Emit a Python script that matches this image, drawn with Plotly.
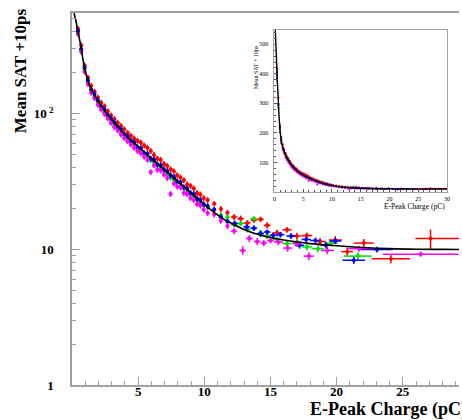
import plotly.graph_objects as go

# Fit curve: mean SAT (+10 ps) versus E-peak charge
fit_q = [0.15, 0.3, 0.45, 0.6, 0.8, 1.0, 1.25, 1.5, 2.0, 2.5, 3.0, 3.5, 4.0, 4.5, 5.0,
         5.5, 6.0, 6.5, 7.0, 7.5, 8.0, 8.5, 9.0, 9.5, 10.0, 10.5, 11.0, 11.5, 12.0,
         13.0, 14.0, 15.0, 16.0, 17.0, 18.0, 19.0, 20.0, 22.0, 24.0, 26.0, 28.0, 30.0]
fit_sat = [550, 480, 400, 340, 260, 205, 168, 148, 122, 104, 90, 79, 70, 63, 57,
           51.7, 46.8, 42.4, 38.5, 35, 31.6, 28.7, 26, 23.6, 21.4, 19.5, 17.9, 16.6, 15.6,
           14.0, 12.9, 12.2, 11.7, 11.3, 11.0, 10.8, 10.6, 10.3, 10.1, 10.0, 9.97, 9.95]

# Common fine charge bins (pC)
q_lo = [0.45, 0.70, 0.95, 1.20, 1.45, 1.70, 1.95, 2.20, 2.45, 2.70, 2.95, 3.20, 3.45,
        3.70, 3.95, 4.20, 4.45, 4.70, 4.95, 5.20, 5.45, 5.70, 5.95, 6.20, 6.45, 6.70,
        6.95, 7.20, 7.45, 7.70, 7.95, 8.20, 8.45, 8.70, 8.95, 9.20, 9.45, 9.70, 9.95]

red_lo = [420, 318, 226, 184, 160, 145, 131, 120, 113, 104, 97, 91, 85.5, 81, 76.5,
          72, 68.5, 65.5, 63, 61, 58, 56, 53, 49.5, 46.5, 45.5, 42.5, 41, 38.8,
          37.5, 35, 33.8, 32.2, 30, 29.3, 28, 26, 25.3, 23.8]
green_lo = [395, 292, 212, 170, 148, 133, 121, 111, 102, 95, 89, 82, 78, 72, 69,
            64.5, 61, 58.5, 55, 53, 50.5, 47.5, 45.5, 43.8, 41, 39.5, 37.5, 36, 33.8,
            32.5, 31, 29.2, 28.2, 26.5, 25.4, 24.5, 23, 22.2, 21]
blue_lo = [405, 298, 218, 176, 150, 139, 125, 113, 107, 97, 92, 86, 79, 76.5, 70,
           68, 62.5, 61.5, 56.5, 55.5, 51, 50.5, 46.5, 45.5, 42, 41.5, 38.5, 37.5, 35,
           34, 31.5, 31, 28.5, 28, 26, 25.5, 23.5, 23, 21.4]
magenta_lo = [385, 285, 203, 165, 142, 130, 116, 107, 99, 92, 85, 79, 75, 70, 66,
              62.5, 59, 56, 53, 51, 48, 45.5, 37, 41.5, 38.5, 38, 35.5, 33.5, 25.5,
              30.5, 29, 28.5, 26, 25.5, 23.8, 23, 21.5, 21, 19.6]

# Coarser high-charge bins, per channel
red_hi_q = [10.25, 10.75, 11.25, 11.75, 12.25, 12.75, 13.25, 13.75, 14.25, 14.75, 15.5,
            16.25, 17.0, 17.75, 18.75, 19.9, 20.8, 22.05, 24.1, 27.1]
red_hi_dq = [0.14, 0.14, 0.14, 0.14, 0.25, 0.25, 0.25, 0.25, 0.25, 0.25, 0.35,
             0.35, 0.35, 0.4, 0.45, 0.5, 0.45, 0.75, 1.45, 2.9]
red_hi_dq_lo = [0.14, 0.14, 0.14, 0.14, 0.25, 0.25, 0.25, 0.25, 0.25, 0.25, 0.35,
                0.35, 0.35, 0.4, 0.45, 0.5, 0.45, 0.75, 1.45, 1.15]
red_hi = [23.0, 21.6, 19.8, 18.6, 17.3, 16.8, 15.6, 16.4, 16.6, 15.0, 13.2,
          13.9, 12.5, 12.6, 11.4, 11.7, 9.6, 11.1, 8.5, 12.0]
red_hi_err = [1.1, 1.0, 1.0, 0.9, 0.9, 0.9, 0.8, 0.8, 0.8, 0.8, 0.7,
              0.7, 0.7, 0.7, 0.7, 0.8, 0.7, 0.8, 0.6, 2.0]

green_hi_q = [10.25, 10.75, 11.25, 11.75, 12.25, 12.75, 13.25, 13.75, 14.25, 14.75, 15.5,
              16.25, 17.0, 17.75, 18.6, 19.6, 21.6]
green_hi_dq = [0.14, 0.14, 0.14, 0.14, 0.25, 0.25, 0.25, 0.25, 0.25, 0.25, 0.35,
               0.35, 0.35, 0.4, 0.45, 0.5, 1.05]
green_hi = [20.5, 19.5, 17.8, 17.2, 15.2, 15.5, 14.0, 16.8, 13.2, 12.5, 11.8,
            11.0, 11.3, 10.4, 10.1, 11.1, 8.9]
green_hi_err = [1.0, 0.9, 0.9, 0.8, 0.8, 0.7, 0.7, 0.7, 0.7, 0.6, 0.6,
                0.6, 0.6, 0.6, 0.6, 0.6, 0.6]

blue_hi_q = [10.25, 10.75, 11.25, 11.75, 12.3, 13.2, 13.75, 14.25, 14.75, 15.2, 15.75,
             16.55, 17.2, 17.7, 18.4, 19.2, 19.9, 21.3, 23.05]
blue_hi_dq = [0.14, 0.14, 0.14, 0.14, 0.25, 0.25, 0.25, 0.25, 0.25, 0.25, 0.3,
              0.35, 0.35, 0.35, 0.4, 0.4, 0.45, 0.85, 1.2]
blue_hi = [20.8, 19.6, 17.2, 16.0, 15.5, 14.6, 14.3, 13.0, 13.4, 12.65, 12.8,
           12.5, 10.7, 11.8, 11.6, 10.7, 11.5, 8.3, 9.95]
blue_hi_err = [1.0, 0.9, 0.9, 0.8, 0.8, 0.7, 0.7, 0.7, 0.6, 0.6, 0.6,
               0.6, 0.6, 0.6, 0.6, 0.6, 0.6, 0.5, 0.5]

magenta_hi_q = [10.25, 10.75, 11.25, 11.75, 12.25, 12.9, 13.4, 14.0, 14.5, 15.0, 15.6,
                16.3, 17.0, 17.9, 19.3, 21.7, 26.35]
magenta_hi_dq = [0.14, 0.14, 0.14, 0.14, 0.25, 0.25, 0.25, 0.25, 0.25, 0.25, 0.35,
                 0.35, 0.35, 0.4, 0.5, 0.9, 2.85]
magenta_hi = [18.5, 18.0, 16.2, 14.8, 13.6, 9.8, 12.0, 11.4, 11.1, 11.6, 11.3,
              10.2, 11.0, 8.9, 9.8, 10.1, 9.2]
magenta_hi_err = [1.0, 0.9, 0.8, 0.8, 0.7, 0.7, 0.7, 0.7, 0.6, 0.6, 0.6,
                  0.6, 0.6, 0.6, 0.6, 0.5, 0.4]

channels = [
    ("#ff0000", red_lo, red_hi_q, red_hi_dq, red_hi_dq_lo, red_hi, red_hi_err),
    ("#00e000", green_lo, green_hi_q, green_hi_dq, green_hi_dq, green_hi, green_hi_err),
    ("#0000ff", blue_lo, blue_hi_q, blue_hi_dq, blue_hi_dq, blue_hi, blue_hi_err),
    ("#ff00ff", magenta_lo, magenta_hi_q, magenta_hi_dq, magenta_hi_dq, magenta_hi, magenta_hi_err),
]

# Log-axis minor tick positions (2..9 in each decade)
log_minor = [2, 3, 4, 5, 6, 7, 8, 9, 20, 30, 40, 50, 60, 70, 80, 90, 200, 300, 400, 500]

FRAME = "#a0a0a0"
SERIF = "Liberation Serif"

fig = go.Figure()

for xa, ya, msize, lw, pct, dq in (("x", "y", 4, 1.5, 5, 0.14), ("x2", "y2", 2.2, 0.8, 3, 0.12)):
    for color, lo, hq, hdq, hdq_lo, hy, hyerr in channels:
        fig.add_trace(go.Scatter(
            x=q_lo, y=lo, mode="markers", xaxis=xa, yaxis=ya,
            marker=dict(color=color, size=msize, line=dict(width=0)),
            error_x=dict(type="constant", value=dq, color=color, thickness=lw, width=0),
            error_y=dict(type="percent", value=pct, color=color, thickness=lw, width=0),
            showlegend=False, cliponaxis=True))
        fig.add_trace(go.Scatter(
            x=hq, y=hy, mode="markers", xaxis=xa, yaxis=ya,
            marker=dict(color=color, size=msize, line=dict(width=0)),
            error_x=dict(type="data", array=hdq, arrayminus=hdq_lo, symmetric=False,
                         color=color, thickness=lw, width=0),
            error_y=dict(type="data", array=hyerr, color=color, thickness=lw, width=0),
            showlegend=False, cliponaxis=True))
    fig.add_trace(go.Scatter(
        x=fit_q, y=fit_sat, mode="lines", xaxis=xa, yaxis=ya,
        line=dict(color="black", width=1.6 if xa == "x" else 1.4, shape="spline"),
        showlegend=False))

tickfont = dict(family=SERIF, size=13, color="black", weight="bold")

fig.update_layout(
    width=462, height=420,
    margin=dict(l=72, r=0, t=13, b=35),
    paper_bgcolor="white", plot_bgcolor="white",
    xaxis=dict(
        domain=[0, 1], range=[0, 29.25], showgrid=False, zeroline=False,
        showline=True, linecolor=FRAME, linewidth=1.5, mirror=True,
        ticks="inside", ticklen=8, tickwidth=1, tickcolor=FRAME,
        tickvals=[5, 10, 15, 20, 25], ticktext=["5", "10", "15", "20", "25"],
        tickfont=tickfont, ticklabelstandoff=-6,
        minor=dict(ticks="inside", ticklen=4, tickcolor=FRAME, dtick=1, showgrid=False),
    ),
    yaxis=dict(
        type="log", range=[0, 2.74], showgrid=False, zeroline=False,
        showline=True, linecolor=FRAME, linewidth=1.5, mirror=False,
        ticks="inside", ticklen=8, tickwidth=1, tickcolor=FRAME,
        tickvals=[1, 10, 100], ticktext=["1", "10", "10<sup> 2</sup>"],
        tickfont=tickfont, ticklabelstandoff=14,
        minor=dict(ticks="inside", ticklen=4, tickcolor=FRAME, tickvals=log_minor,
                   showgrid=False),
    ),
    xaxis2=dict(
        domain=[0.523, 0.969], anchor="y2", range=[0, 30], showgrid=False, zeroline=False,
        showline=True, linecolor=FRAME, linewidth=1, mirror=True,
        ticks="inside", ticklen=3, tickwidth=0.8, tickcolor="#555",
        tickvals=[0, 5, 10, 15, 20, 25, 30],
        tickfont=dict(family=SERIF, size=6, color="black"), ticklabelstandoff=1,
        minor=dict(ticks="inside", ticklen=2, tickcolor="#555", dtick=1, showgrid=False),
    ),
    yaxis2=dict(
        domain=[0.519, 0.954], anchor="x2", range=[0, 548], showgrid=False, zeroline=False,
        showline=True, linecolor=FRAME, linewidth=1, mirror=True,
        ticks="inside", ticklen=3, tickwidth=0.8, tickcolor="#555",
        tickvals=[100, 200, 300, 400, 500],
        tickfont=dict(family=SERIF, size=6, color="black"), ticklabelstandoff=4,
        minor=dict(ticks="inside", ticklen=2, tickcolor="#555", dtick=20, showgrid=False),
    ),
    annotations=[
        dict(text="<b>Mean SAT +10ps</b>", textangle=-90, xref="paper", yref="paper",
             x=-0.133, y=0.845, xanchor="center", yanchor="middle", showarrow=False,
             font=dict(family=SERIF, size=17, color="black")),
        dict(text="<b>E-Peak Charge (pC)</b>", xref="paper", yref="paper",
             x=1.025, y=-0.067, xanchor="right", yanchor="middle", showarrow=False,
             font=dict(family=SERIF, size=18, color="black")),
        dict(text="Mean SAT + 10ps", textangle=-90, xref="paper", yref="paper",
             x=0.474, y=0.92, xanchor="center", yanchor="top", showarrow=False,
             font=dict(family=SERIF, size=6, color="black")),
        dict(text="E-Peak Charge (pC)", xref="paper", yref="paper",
             x=0.969, y=0.48, xanchor="right", yanchor="middle", showarrow=False,
             font=dict(family=SERIF, size=7.5, color="black")),
    ],
)

fig.write_html("out.html")
